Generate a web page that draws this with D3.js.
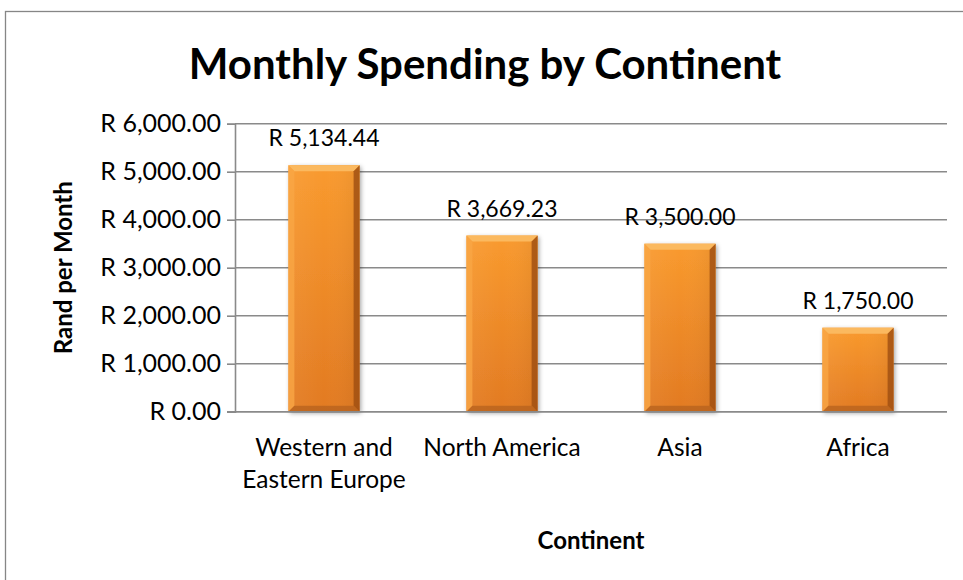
<!DOCTYPE html>
<html>
<head>
<meta charset="utf-8">
<script src="https://cdn.jsdelivr.net/npm/d3@7"></script>
<style>
  html, body { margin: 0; padding: 0; background: #fff; }
  svg { display: block; }
  text { font-family: Lato, "Open Sans", sans-serif; fill: #000; }
</style>
</head>
<body>
<svg id="chart" width="963" height="580"></svg>
<script>
const categories = [["Western and", "Eastern Europe"], ["North America"], ["Asia"], ["Africa"]];
const values = [5134.44, 3669.23, 3500.00, 1750.00];
const yTicks = [0, 1000, 2000, 3000, 4000, 5000, 6000];
const title = "Monthly Spending by Continent";
const xTitle = "Continent";
const yTitle = "Rand per Month";

const fmt = v => "R " + d3.format(",.2f")(v);

const svg = d3.select("#chart");
const m = { left: 235, right: 947, top: 123.7, bottom: 411.7 };

// outer chart border
svg.append("rect").attr("x", 5.5).attr("y", 11.5).attr("width", 1000).attr("height", 700)
  .attr("fill", "#fff").attr("stroke", "#868686").attr("stroke-width", 1.3);

const x = d3.scaleBand().domain(d3.range(values.length)).range([m.left, m.right]).paddingInner(0.6).paddingOuter(0.3);
const y = d3.scaleLinear().domain([0, 6000]).range([m.bottom, m.top]);

const defs = svg.append("defs");
const g1 = defs.append("linearGradient").attr("id", "barGrad").attr("x1", 0).attr("y1", 0).attr("x2", 0).attr("y2", 1);
g1.append("stop").attr("offset", "0%").attr("stop-color", "#F99A2E");
g1.append("stop").attr("offset", "100%").attr("stop-color", "#E27A22");
const g2 = defs.append("linearGradient").attr("id", "barGradH").attr("x1", 0).attr("y1", 0).attr("x2", 1).attr("y2", 0);
g2.append("stop").attr("offset", "0%").attr("stop-color", "#fff").attr("stop-opacity", 0.06);
g2.append("stop").attr("offset", "50%").attr("stop-color", "#fff").attr("stop-opacity", 0);
g2.append("stop").attr("offset", "100%").attr("stop-color", "#000").attr("stop-opacity", 0.06);
const f = defs.append("filter").attr("id", "shadow").attr("x", "-20%").attr("y", "-10%").attr("width", "140%").attr("height", "120%");
f.append("feDropShadow").attr("dx", 1.5).attr("dy", 1.5).attr("stdDeviation", 2).attr("flood-color", "#000").attr("flood-opacity", 0.35);

// gridlines
svg.append("g").selectAll("line").data(yTicks).join("line")
  .attr("x1", m.left).attr("x2", m.right)
  .attr("y1", d => y(d)).attr("y2", d => y(d))
  .attr("stroke", "#8a8a8a").attr("stroke-width", 1.6);

// y axis
const yAxis = svg.append("g").attr("transform", `translate(${m.left},0)`)
  .call(d3.axisLeft(y).tickValues(yTicks).tickFormat(fmt).tickSize(8).tickPadding(6));
yAxis.select(".domain").attr("stroke", "#8a8a8a").attr("stroke-width", 1.6);
yAxis.selectAll(".tick line").attr("stroke", "#8a8a8a").attr("stroke-width", 1.6);
yAxis.selectAll(".tick text").attr("font-size", 25).attr("font-family", "Lato, sans-serif").attr("fill", "#000");

// bars
const bev = 6;
const bars = svg.append("g").selectAll("g").data(values).join("g");
bars.append("rect")
  .attr("x", (d, i) => x(i)).attr("y", d => y(d))
  .attr("width", x.bandwidth()).attr("height", d => y(0) - y(d))
  .attr("fill", "url(#barGrad)").attr("filter", "url(#shadow)");
bars.append("rect")
  .attr("x", (d, i) => x(i)).attr("y", d => y(d))
  .attr("width", x.bandwidth()).attr("height", d => y(0) - y(d))
  .attr("fill", "url(#barGradH)");
const bevel = (pts, fill, op) => bars.append("polygon")
  .attr("points", (d, i) => pts(x(i), y(d), x(i) + x.bandwidth(), y(0)).map(p => p.join(",")).join(" "))
  .attr("fill", fill).attr("fill-opacity", op);
bevel((l, t, r, b) => [[l, t], [r, t], [r - bev, t + bev], [l + bev, t + bev]], "#FBB95F", 1);
bevel((l, t, r, b) => [[l, t], [l + bev, t + bev], [l + bev, b - bev], [l, b]], "#F9A645", 0.8);
bevel((l, t, r, b) => [[r, t], [r, b], [r - bev, b - bev], [r - bev, t + bev]], "#9E4E12", 0.8);
bevel((l, t, r, b) => [[l, b], [l + bev, b - bev], [r - bev, b - bev], [r, b]], "#B8631E", 0.8);

// x baseline drawn over bars
svg.append("line").attr("x1", m.left - 8).attr("x2", m.right)
  .attr("y1", y(0)).attr("y2", y(0)).attr("stroke", "#8a8a8a").attr("stroke-width", 1.6);

// data labels
svg.append("g").selectAll("text").data(values).join("text")
  .attr("x", (d, i) => x(i) + x.bandwidth() / 2).attr("y", d => y(d) - 19)
  .attr("text-anchor", "middle").attr("font-size", 23).text(fmt);

// category labels
const cl = svg.append("g").selectAll("text").data(categories).join("text")
  .attr("x", (d, i) => x(i) + x.bandwidth() / 2).attr("y", 456)
  .attr("text-anchor", "middle").attr("font-size", 24.5);
cl.selectAll("tspan").data(d => d).join("tspan")
  .attr("x", function () { return d3.select(this.parentNode).attr("x"); })
  .attr("dy", (d, j) => j === 0 ? 0 : 32).text(d => d);

// titles
svg.append("text").attr("x", 485).attr("y", 79).attr("text-anchor", "middle")
  .attr("font-size", 42).attr("font-weight", "bold").text(title);
svg.append("text").attr("x", (m.left + m.right) / 2).attr("y", 549).attr("text-anchor", "middle")
  .attr("font-size", 24).attr("font-weight", "bold").text(xTitle);
svg.append("text").attr("transform", `translate(72,${(m.top + m.bottom) / 2}) rotate(-90)`)
  .attr("text-anchor", "middle").attr("font-size", 24).attr("font-weight", "bold").text(yTitle);
</script>
</body>
</html>
